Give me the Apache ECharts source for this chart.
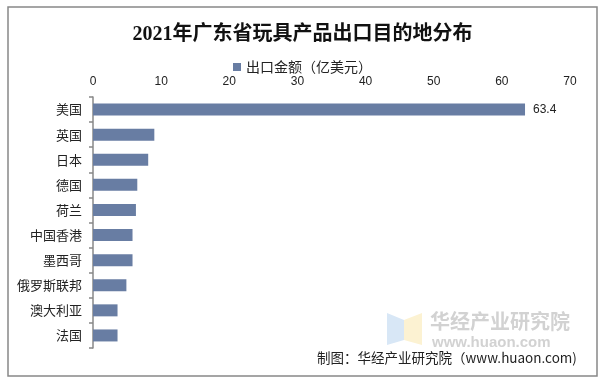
<!DOCTYPE html>
<html>
<head>
<meta charset="utf-8">
<script src="https://cdn.jsdelivr.net/npm/echarts@6/dist/echarts.min.js"></script>
<style>
  html, body { margin: 0; padding: 0; background: #fff; }
  #chartContainer { width: 605px; height: 384px; }
</style>
</head>
<body>
<div id="chartContainer"></div>
<script>
var categories = ['美国', '英国', '日本', '德国', '荷兰', '中国香港', '墨西哥', '俄罗斯联邦', '澳大利亚', '法国'];
var exportValues = [63.4, 9.0, 8.1, 6.5, 6.3, 5.8, 5.8, 4.9, 3.6, 3.6];
var xTicks = [0, 70, 10]; // min, max, interval

var chart = echarts.init(document.getElementById('chartContainer'));

// only the first bar carries a value label in the original
var barData = exportValues.map(function (v, i) {
    return i === 0 ? { value: v, label: { show: true } } : v;
});

chart.setOption({
    animation: false,
    title: {
        text: '2021年广东省玩具产品出口目的地分布',
        left: 'center',
        top: 20,
        textStyle: {
            fontFamily: '"Liberation Serif", "DejaVu Serif", "Noto Sans CJK SC", serif',
            fontSize: 20,
            fontWeight: 'bold',
            color: '#111'
        }
    },
    legend: {
        top: 55,
        left: 'center',
        itemWidth: 8,
        itemHeight: 8,
        itemGap: 4,
        icon: 'rect',
        textStyle: { fontSize: 14, color: '#222', fontFamily: '"Noto Sans CJK SC", sans-serif' },
        data: ['出口金额（亿美元）']
    },
    grid: {
        top: 97,
        left: 93,
        right: 35,
        bottom: 36
    },
    xAxis: {
        type: 'value',
        position: 'top',
        min: xTicks[0],
        max: xTicks[1],
        interval: xTicks[2],
        axisLine: { show: false },
        axisTick: { show: false },
        splitLine: { show: false },
        axisLabel: { margin: 9, fontSize: 12, color: '#222', fontFamily: 'Arial, "Liberation Sans", sans-serif' }
    },
    yAxis: {
        type: 'category',
        inverse: true,
        data: categories,
        axisLine: { show: true, lineStyle: { color: '#888', width: 1.5 } },
        axisTick: { show: true, length: 4, lineStyle: { color: '#888', width: 1.5 } },
        axisLabel: { margin: 11, fontSize: 13, color: '#222', fontFamily: '"Noto Sans CJK SC", sans-serif' }
    },
    series: [{
        name: '出口金额（亿美元）',
        type: 'bar',
        data: barData,
        barWidth: 12,
        itemStyle: { color: '#687da3' },
        label: {
            show: false,
            position: 'right',
            distance: 8,
            fontSize: 12,
            color: '#222',
            fontFamily: 'Arial, "Liberation Sans", sans-serif'
        }
    }],
    graphic: [
        {
            type: 'rect',
            shape: { x: 8, y: 7, width: 589, height: 369 },
            style: { fill: 'none', stroke: '#888', lineWidth: 1.5 },
            silent: true
        },
        {
            type: 'polygon',
            shape: { points: [[387, 313], [404, 320], [404, 340], [387, 345]] },
            style: { fill: '#d8e7f6' },
            silent: true
        },
        {
            type: 'polygon',
            shape: { points: [[404, 320], [422, 313], [422, 345], [404, 340]] },
            style: { fill: '#fcf2d2' },
            silent: true
        },
        {
            type: 'text',
            left: 430,
            top: 311,
            style: {
                text: '华经产业研究院',
                font: 'bold 20px "Noto Sans CJK SC", sans-serif',
                fill: '#d2d2d2'
            },
            silent: true
        },
        {
            type: 'text',
            left: 432,
            top: 335,
            style: {
                text: 'www.huaon.com',
                font: 'bold 15px Arial, "Liberation Sans", sans-serif',
                fill: '#d2d2d2'
            },
            silent: true
        },
        {
            type: 'text',
            left: 317,
            top: 351,
            style: {
                text: '制图：华经产业研究院（www.huaon.com)',
                font: '13.5px "Noto Sans CJK SC", sans-serif',
                fill: '#222'
            },
            silent: true
        }
    ]
});
</script>
</body>
</html>
